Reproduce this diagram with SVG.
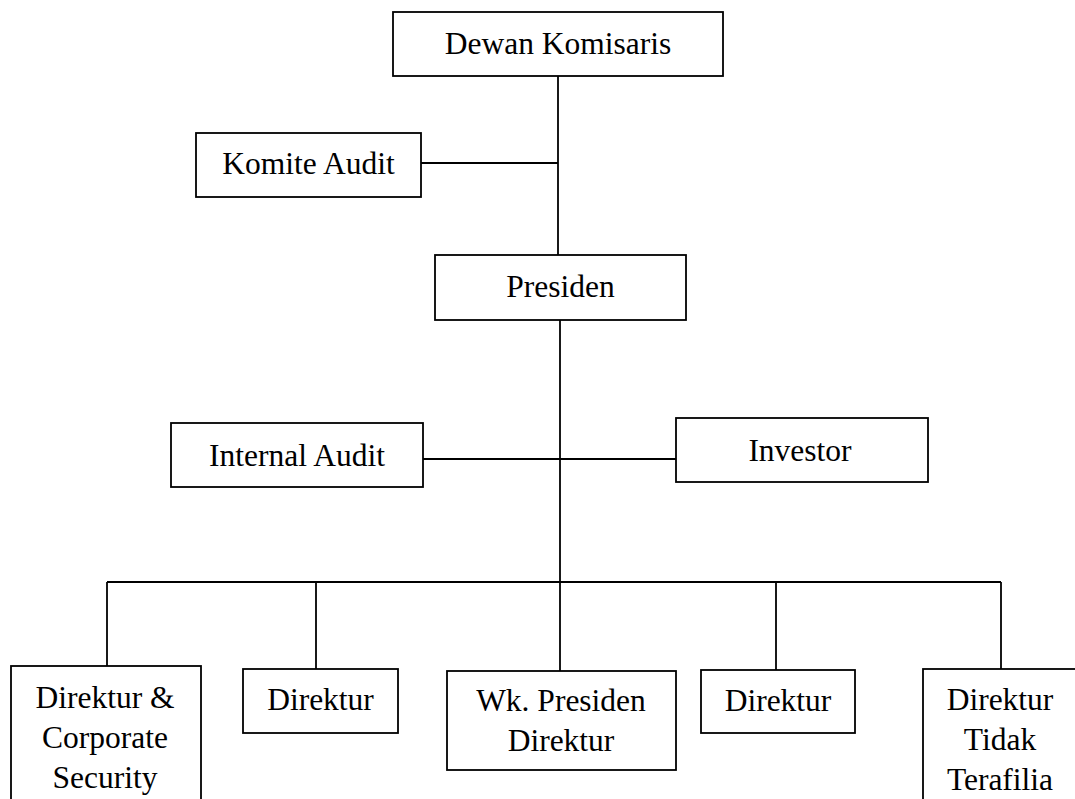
<svg xmlns="http://www.w3.org/2000/svg" width="1075" height="799" viewBox="0 0 1075 799">
<style>
.box{fill:#fff;stroke:#000;stroke-width:1.8}
.con{fill:none;stroke:#000;stroke-width:1.8}
text{font-family:"Liberation Serif","Times New Roman",serif;font-size:31.5px;fill:#000;text-anchor:middle}
</style>
<rect width="1075" height="799" fill="#fff"/>
<g id="connectors">
<line class="con" x1="558" y1="76" x2="558" y2="255"/>
<line class="con" x1="421" y1="163" x2="558" y2="163"/>
<line class="con" x1="560" y1="320" x2="560" y2="582"/>
<line class="con" x1="423" y1="459" x2="676" y2="459"/>
<line class="con" x1="107" y1="582" x2="1001" y2="582"/>
<line class="con" x1="107" y1="582" x2="107" y2="666"/>
<line class="con" x1="316" y1="582" x2="316" y2="669"/>
<line class="con" x1="560" y1="582" x2="560" y2="671"/>
<line class="con" x1="776" y1="582" x2="776" y2="670"/>
<line class="con" x1="1001" y1="582" x2="1001" y2="669"/>
</g>
<g id="dewan-komisaris">
<rect class="box" x="393" y="12" width="330" height="64"/>
<text x="558" y="54">Dewan Komisaris</text>
</g>
<g id="komite-audit">
<rect class="box" x="196" y="133" width="225" height="64"/>
<text x="308.5" y="174">Komite Audit</text>
</g>
<g id="presiden">
<rect class="box" x="435" y="255" width="251" height="65"/>
<text x="560.5" y="297">Presiden</text>
</g>
<g id="internal-audit">
<rect class="box" x="171" y="423" width="252" height="64"/>
<text x="297" y="466">Internal Audit</text>
</g>
<g id="investor">
<rect class="box" x="676" y="418" width="252" height="64"/>
<text x="800" y="461">Investor</text>
</g>
<g id="direktur-corporate-security">
<rect class="box" x="11" y="666" width="190" height="140"/>
<text x="105" y="708">Direktur &amp;</text>
<text x="105" y="748">Corporate</text>
<text x="105" y="788">Security</text>
</g>
<g id="direktur-1">
<rect class="box" x="243" y="669" width="155" height="64"/>
<text x="320.5" y="710">Direktur</text>
</g>
<g id="wk-presiden-direktur">
<rect class="box" x="447" y="671" width="229" height="99"/>
<text x="561" y="711">Wk. Presiden</text>
<text x="561" y="751">Direktur</text>
</g>
<g id="direktur-2">
<rect class="box" x="701" y="670" width="154" height="63"/>
<text x="778" y="711">Direktur</text>
</g>
<g id="direktur-tidak-terafilia">
<rect class="box" x="923" y="669" width="156" height="140"/>
<text x="1000" y="710">Direktur</text>
<text x="1000" y="750">Tidak</text>
<text x="1000" y="790">Terafilia</text>
</g>
</svg>
